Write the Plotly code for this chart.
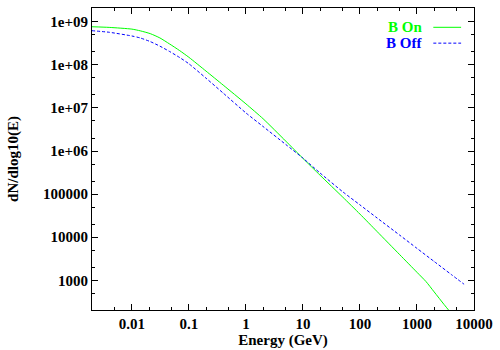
import plotly.graph_objects as go

# Energy (GeV)
energy_on = [0.002, 0.004, 0.01, 0.014, 0.021, 0.031, 0.046, 0.069, 0.1, 0.2, 0.4, 1, 2, 5, 10,
             20, 50, 100, 200, 500, 1000, 1440, 2000, 3000, 4000]
dn_on = [7.67e8, 7.41e8, 6.76e8, 6.17e8, 5.31e8, 4.22e8, 3.05e8, 2.14e8, 1.50e8, 7.16e7, 3.39e7,
         1.245e7, 5.62e6, 1.70e6, 6.76e5, 2.74e5, 8.49e4, 3.44e4, 1.35e4, 3.91e3, 1.53e3, 933,
         538, 272, 170]

energy_off = [0.002, 0.004, 0.01, 0.014, 0.021, 0.031, 0.046, 0.069, 0.1, 0.2, 0.4, 1, 2, 5, 10,
              20, 50, 100, 200, 500, 1000, 2000, 4000, 6700]
dn_off = [6.21e8, 5.71e8, 4.68e8, 4.22e8, 3.47e8, 2.72e8, 2.04e8, 1.48e8, 1.06e8, 4.90e7, 2.21e7,
          7.67e6, 3.71e6, 1.42e6, 6.84e5, 3.08e5, 1.13e5, 5.62e4, 2.79e4, 1.11e4, 5.5e3, 2.73e3,
          1.36e3, 809]

x_tickvals = [0.01, 0.1, 1, 10, 100, 1000, 10000]
x_ticktext = ["0.01", "0.1", "1", "10", "100", "1000", "10000"]
y_tickvals = [1e3, 1e4, 1e5, 1e6, 1e7, 1e8, 1e9]
y_ticktext = ["1000", "10000", "100000", "1e+06", "1e+07", "1e+08", "1e+09"]

FONT = "Liberation Serif"
GREEN = "#00ff00"
BLUE = "#0000ff"
FS = 15

fig = go.Figure()
fig.add_trace(go.Scatter(x=energy_on, y=dn_on, mode="lines", name="B On",
                         line=dict(color=GREEN, width=1, shape="spline", smoothing=0.6),
                         showlegend=False))
fig.add_trace(go.Scatter(x=energy_off, y=dn_off, mode="lines", name="B Off",
                         line=dict(color=BLUE, width=1, dash="3px,2px", shape="spline", smoothing=0.6),
                         showlegend=False))

axis_common = dict(
    showgrid=False, zeroline=False, showline=True, linecolor="black", linewidth=1,
    mirror="ticks", ticks="inside", ticklen=6, tickcolor="black", tickwidth=1,
    minor=dict(ticks="inside", ticklen=3, tickcolor="black", dtick="D2"),
    tickfont=dict(family=FONT, size=FS, color="black", weight="bold"),
)

fig.update_xaxes(type="log", range=[-2.699, 4.0], tickvals=x_tickvals, ticktext=x_ticktext,
                 title=dict(text="Energy (GeV)", font=dict(family=FONT, size=FS, color="black", weight="bold"),
                            standoff=0),
                 **axis_common)
fig.update_yaxes(type="log", range=[2.31, 9.32], tickvals=y_tickvals, ticktext=y_ticktext,
                 title=dict(text="dN/dlog10(E)", font=dict(family=FONT, size=FS, color="black", weight="bold"),
                            standoff=20),
                 **axis_common)

# legend (gnuplot style: text right-aligned, sample to the right)
legend_items = [("B On", GREEN, "solid", 26.5), ("B Off", BLUE, "3px,2px", 42.5)]
W, H = 500, 350
L, R, T, B = 92, 23, 7, 38
pw, ph = W - L - R, H - T - B
def px(x):
    return (x - L) / pw
def py(y):
    return 1 - (y - T) / ph
for label, col, dash, yc in legend_items:
    fig.add_annotation(x=px(427), y=py(yc), xref="paper", yref="paper", text=label,
                       showarrow=False, xanchor="right", yanchor="middle",
                       font=dict(family=FONT, size=FS, color=col, weight="bold"))
    fig.add_shape(type="line", xref="paper", yref="paper", x0=px(436), x1=px(464),
                  y0=py(yc), y1=py(yc), line=dict(color=col, width=1, dash=dash))

fig.update_layout(width=W, height=H, margin=dict(l=L, r=R, t=T, b=B),
                  paper_bgcolor="white", plot_bgcolor="white", showlegend=False)

fig.write_html("out.html", config={"displayModeBar": False},
               post_script="document.body.style.margin='0';document.body.style.padding='0';")
